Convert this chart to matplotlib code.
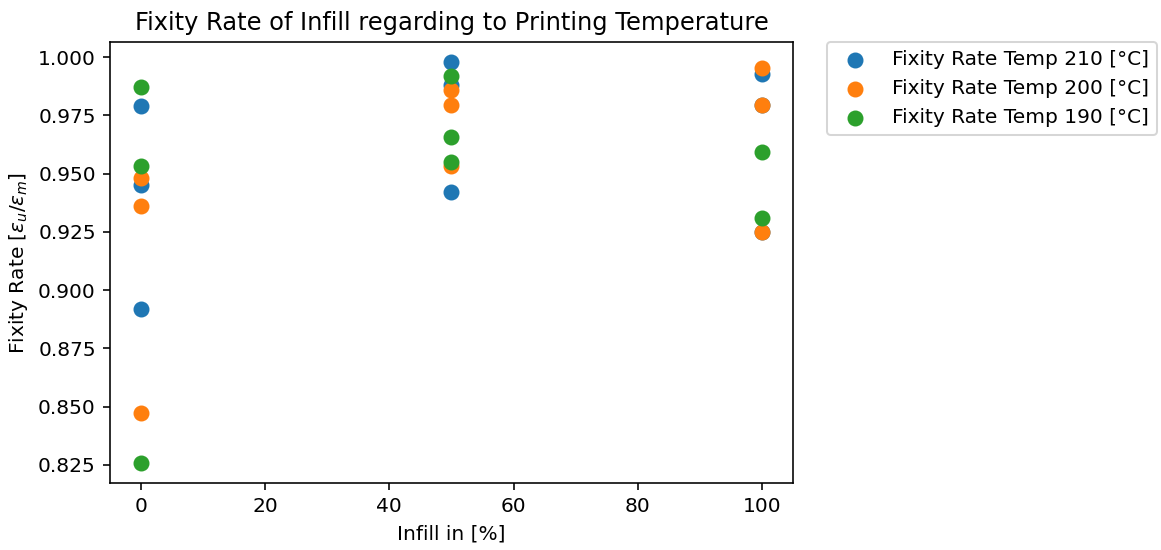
import numpy as np
import matplotlib.pyplot as plt

# Infill values and fixity rates
infill = [0, 0, 0, 50, 50, 50, 100, 100, 100]
temp_210 = [0.9791, 0.9452, 0.8918, 0.9979, 0.9879, 0.9423, 0.9929, 0.9794, 0.9250]
temp_200 = [0.9483, 0.9359, 0.8473, 0.9858, 0.9794, 0.9533, 0.9953, 0.9794, 0.9250]
infill_190 = [0, 0, 0, 50, 50, 50, 100, 100]
temp_190 = [0.9872, 0.9534, 0.8258, 0.9919, 0.9656, 0.9550, 0.9591, 0.9310]

dpi = 145
fig = plt.figure(figsize=(1161 / dpi, 550 / dpi), dpi=dpi)
ax = fig.add_axes([0.0947, 0.1218, 0.5883, 0.8018])

ax.scatter(infill, temp_210, s=48, label="Fixity Rate Temp 210 [°C]")
ax.scatter(infill, temp_200, s=48, label="Fixity Rate Temp 200 [°C]")
ax.scatter(infill_190, temp_190, s=48, label="Fixity Rate Temp 190 [°C]")

ax.set_title("Fixity Rate of Infill regarding to Printing Temperature")
ax.set_xlabel("Infill in [%]")
ax.set_ylabel(r"Fixity Rate [$\epsilon_u/\epsilon_m$]")
ax.legend(bbox_to_anchor=(1.05, 1), loc="upper left", borderaxespad=0)

fig.savefig("out.png", dpi=dpi)
